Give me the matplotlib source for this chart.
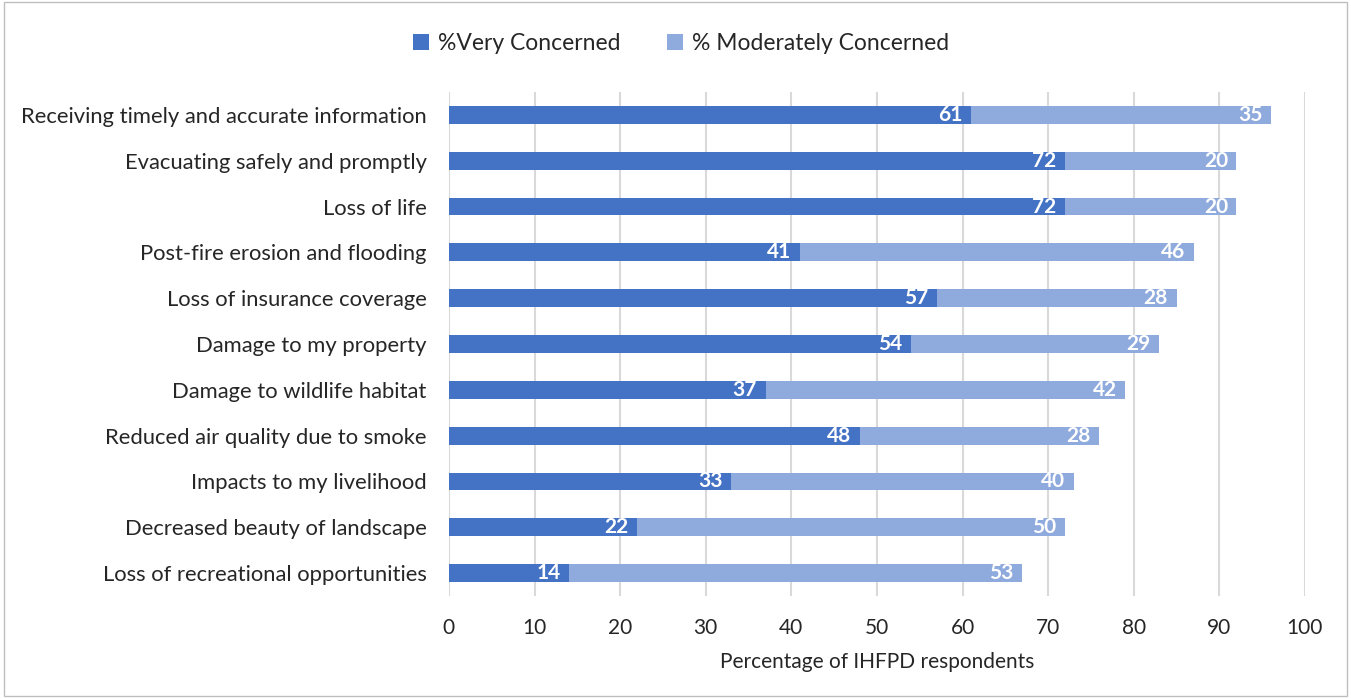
import numpy as np
import matplotlib.pyplot as plt
from matplotlib.patches import Rectangle

plt.rcParams['font.family'] = ['Lato', 'DejaVu Sans']

categories = [
    "Receiving timely and accurate information",
    "Evacuating safely and promptly",
    "Loss of life",
    "Post-fire erosion and flooding",
    "Loss of insurance coverage",
    "Damage to my property",
    "Damage to wildlife habitat",
    "Reduced air quality due to smoke",
    "Impacts to my livelihood",
    "Decreased beauty of landscape",
    "Loss of recreational opportunities",
]
very = [61, 72, 72, 41, 57, 54, 37, 48, 33, 22, 14]
moderate = [35, 20, 20, 46, 28, 29, 42, 28, 40, 50, 53]
xticks = list(range(0, 101, 10))

dark = '#4472C4'
light = '#8FAADC'
txt = '#262626'

fig = plt.figure(figsize=(13.51, 6.98), dpi=100)
ax = fig.add_axes([0.3323, 0.1461, 0.6336, 0.7221])

y = np.arange(len(categories))
h = 0.39
b1 = ax.barh(y, very, height=h, color=dark, label='%Very Concerned', zorder=3)
b2 = ax.barh(y, moderate, left=very, height=h, color=light, label='% Moderately Concerned', zorder=3)

for i in range(len(categories)):
    ax.text(very[i] - 1.0, y[i], str(very[i]), ha='right', va='center',
            color='white', fontsize=15, fontweight='bold', zorder=4)
    ax.text(very[i] + moderate[i] - 1.0, y[i], str(moderate[i]), ha='right', va='center',
            color='white', fontsize=15, fontweight='bold', zorder=4)

ax.set_ylim(len(categories) - 0.5, -0.5)
ax.set_xlim(0, 100)
ax.set_yticks(y)
ax.set_yticklabels(categories, fontsize=15.8, color=txt)
ax.set_xticks(xticks)
ax.set_xticklabels([str(t) for t in xticks], fontsize=15, color=txt)
ax.tick_params(axis='y', length=0, pad=16)
ax.tick_params(axis='x', length=0, pad=16)
ax.xaxis.grid(True, color='#D9D9D9', linewidth=1.5, zorder=0)
for s in ax.spines.values():
    s.set_visible(False)
ax.set_xlabel('Percentage of IHFPD respondents', fontsize=15, color=txt, labelpad=10)

fig.legend(handles=[b1, b2], loc='center', bbox_to_anchor=(0.504, 0.937), ncol=2,
           frameon=False, fontsize=16.5, handlelength=0.7, handleheight=0.7,
           columnspacing=2.0, handletextpad=0.4, labelcolor=txt)

fig.patches.append(Rectangle((0.003, 0.003), 0.994, 0.994, transform=fig.transFigure,
                             fill=False, edgecolor='#BFBFBF', linewidth=1))

fig.savefig('out.png', dpi=100)
